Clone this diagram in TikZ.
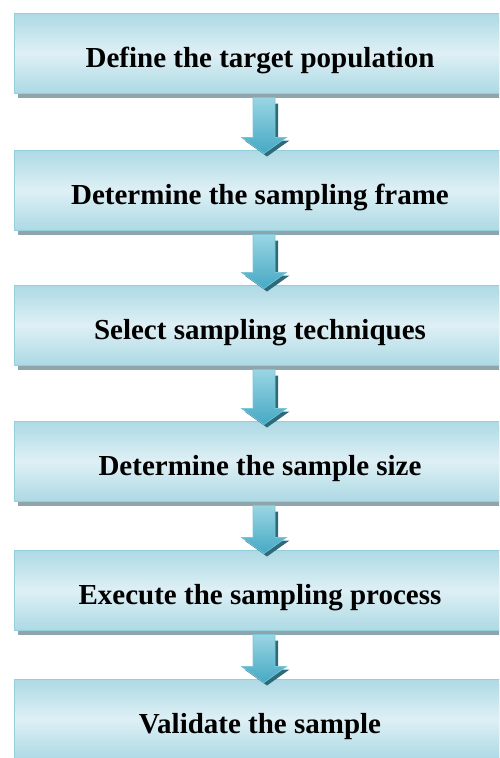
\documentclass[tikz,border=0pt]{standalone}
\usepackage{fontspec}
\setmainfont{Liberation Serif}
\usetikzlibrary{calc,shadows}
\definecolor{boxlight}{HTML}{DEF0F5}
\definecolor{boxdark}{HTML}{8FCBDA}
\definecolor{boxline}{HTML}{95CFDD}
\definecolor{boxshade}{HTML}{8FA5AC}
\definecolor{arrlight}{HTML}{9AD5E3}
\definecolor{arrmid}{HTML}{45A9C4}
\definecolor{arrline}{HTML}{7CC6D8}
\definecolor{arrdark}{HTML}{2D6A7A}
\tikzset{
  stepbox/.style={draw=boxline, line width=1pt, fill=white, minimum width=492pt,
    minimum height=80pt, inner sep=0pt, text height=28pt, text depth=0pt,
    font=\fontsize{29}{34}\selectfont\bfseries,
    path picture={\shade[top color=boxdark, bottom color=boxdark, middle color=boxlight,
      rotate around={-9.2:(path picture bounding box.center)}]
      ($(path picture bounding box.center)+(-270,-65)$) rectangle ++(540,130);},
    drop shadow={shadow xshift=4pt, shadow yshift=-5pt, fill=boxshade, opacity=1}},
  flowarrow/.style={draw=arrline, line width=0.6pt, top color=arrlight, bottom color=arrmid},
  flowshade/.style={fill=arrdark}
}
\newcommand{\arrowpath}[2]{($(#1)+(-11,0)$) -- ($(#1)+(11,0)$) -- ($(#2)+(11,-16)$)
  -- ($(#2)+(22.5,-16)$) -- (#2) -- ($(#2)+(-22.5,-16)$) -- ($(#2)+(-11,-16)$) -- cycle}
\begin{document}
\begin{tikzpicture}[x=1pt,y=-1pt]
  \useasboundingbox (0,0) rectangle (499,758);
  \begin{scope}
    \clip (0,0) rectangle (499,758);
    \node[stepbox] (b1) at (260,53) {Define the target population};
    \node[stepbox] (b2) at (260,190) {Determine the sampling frame};
    \node[stepbox] (b3) at (260,325) {Select sampling techniques};
    \node[stepbox] (b4) at (260,461) {Determine the sample size};
    \node[stepbox] (b5) at (260,590) {Execute the sampling process};
    \node[stepbox] (b6) at (260,719) {Validate the sample};
  \end{scope}
  \foreach \a/\b in {b1/b2,b2/b3,b3/b4,b4/b5,b5/b6}{
    \coordinate (s) at ($(\a.south)+(4,4)$);
    \coordinate (t) at ($(\b.north)+(4,4)$);
    \coordinate (s2) at ($(s)+(3,6)$);
    \coordinate (t2) at ($(t)+(3,3)$);
    \fill[flowshade] \arrowpath{s2}{t2};
    \path[flowarrow] \arrowpath{s}{t};
  }
\end{tikzpicture}
\end{document}
